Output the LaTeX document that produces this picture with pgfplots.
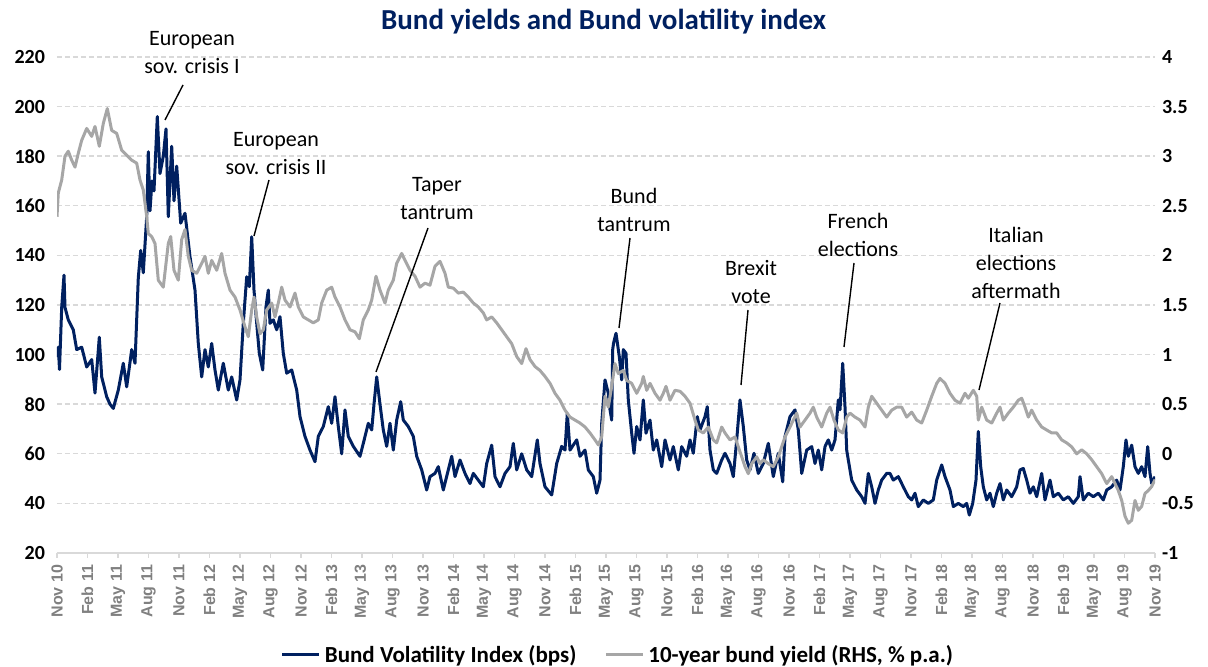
\documentclass[border=0pt]{standalone}
\usepackage{fontspec}
\setmainfont{Carlito}
\newfontfamily\xlabfont{Liberation Sans}
\usepackage{pgfplots}
\pgfplotsset{compat=1.18}
\usepackage{pgfplotstable}
\definecolor{navy}{RGB}{0,32,96}
\definecolor{ygray}{RGB}{166,166,166}
\definecolor{gridc}{RGB}{217,217,217}
\definecolor{xlab}{RGB}{128,128,128}

% px = horizontal position (57 = Nov 10, 1155 = Nov 19)
\pgfplotstableread{
px vol
57 99
58.3 103
59.5 94
61.7 119
64 132
65 119
68.3 114
73.3 110
76.7 102
81.7 103
86.7 95
91.7 98
95 84.5
99.3 107
101.7 91
106.7 83
110 80
113.3 78.3
118.3 85.7
123.3 96.5
126.7 87
131.7 102
135 96.5
138.3 131
140.7 142
143.3 133
146.7 155.6
148.3 181.8
150 158
152 170
154 166
157.3 196
160 173
163.3 180
166 191
168.3 155.6
171.7 184
174 162
176.7 176
180.7 153
185 157
190 139.5
195 126
198.3 104.5
201.7 91
205 102
208.3 95
211.7 104.5
215 93.8
218.3 85.7
223.3 96.5
228.3 85.7
231.7 91
236.7 81.7
240 89.8
243.3 112.6
246.7 131.4
249.3 127.4
251.7 147.5
254 126
256.7 112.6
259.3 100.5
262.7 93.8
266 119.3
268.3 126
270 112.6
273.3 114
276.7 110
280 115.3
283.3 100.5
286.7 92.5
291.7 93.8
296.7 85.7
300 75
305 67
310 61.5
315 56.8
318.3 67
323.3 71
328.3 79
331.7 72.3
335 83
338.3 71
341.7 60
345 77.7
348.3 67
353.3 63
360 59
363.3 64.2
368.3 72.3
371.7 69.6
374 80
376.7 91
380 80
383.3 69.6
386.7 63
390 72.3
393.3 61.5
396.7 73.6
400.7 81
403.3 73.6
408.3 71
413.3 67
416.7 59
421.7 53.5
426.7 45.4
430 50.8
435 52.1
438.3 54.8
443.3 45.4
448.3 53.5
451.7 59
455 50.8
460 57.5
465 52.1
470 48
473.3 52.1
478.3 49.4
483.3 46.7
486.7 56.1
491.7 63.5
495 50.8
500 46.7
505 52.1
510 54.8
513.3 64.2
516.7 53.5
521.7 60
526.7 53.5
531.7 50.8
537.3 65.6
540 56.1
545 46.7
551.7 43.4
556.7 56.1
561.7 63
565 61.5
567.3 76.3
570 61.5
576.7 65.6
580 59
585 61.5
588.3 53.5
593.3 50.8
596.7 44.1
600 49.4
601.7 72.3
605 89.8
608.3 84.4
610 77.7
611.7 73.6
612.7 102
613.5 104.5
616 108.6
619.3 99.2
621.7 89.8
623.3 102
626 100.5
628.3 81.7
631.7 68.3
634 60.2
636.7 71
640 65.6
643.3 81.7
646 68.3
650 73.6
653.3 61.5
656.7 65.6
661.7 54.8
665 65.6
670 57.5
673.3 62.9
678.3 53.5
681.7 62.9
686.7 59
690 65.6
693.3 60.2
697.3 75
700 69.6
705 75
707.3 79
710 61.5
713.3 53.5
716.7 52.1
721.7 57.5
725 60.2
730 56.1
733.3 50.8
736.7 65.6
740 81.7
743.3 71
746.7 57.5
750 53.5
754 60.2
758.3 52.1
763.3 56.1
768.3 64.2
773.3 50.8
778.3 60.2
782.7 48.7
785 67
790 75
795 77.7
798.3 69.6
801.7 52.1
806.7 61.5
811.7 62.9
815 56.1
818.3 61.5
821.7 53.5
825 62.9
828.3 65.6
831.7 61.5
835 65.6
838.3 81.7
840 77.7
842.7 96.5
845 79
846.7 61.5
848.3 57.5
851.7 49.4
856.7 45.4
861.7 42.7
865 40
868.3 52.1
871.7 46.7
875 40
878.3 45.4
881.7 49.4
886.7 52.1
890 52.1
893.3 49.4
898.3 50.8
903.3 46.7
908.3 42.7
911.7 41.4
915 44.1
918.3 38.7
923.3 41.4
928.3 40
933.3 41.4
936.7 49.4
941.7 55.5
945 50.8
950 45.4
953.3 38.7
958.3 40
963.3 38.7
966.7 40
969.3 35.3
972.7 40
976 49.4
978.3 69
980.7 54.8
983.3 46.7
986.7 41.4
990 44.1
993.3 38.7
996.7 44.1
1000 48
1003.3 41.4
1006.7 45.4
1011.7 42.7
1016.7 46.7
1020 53.5
1023.3 54.1
1026.7 49.4
1030 44.1
1033.3 46.7
1036.7 42.7
1041.7 52.1
1045 41.4
1050 49.4
1053.3 42.7
1058.3 44.1
1063.3 41.4
1068.3 42.7
1073.3 40
1078.3 42.7
1080 50.8
1083.3 41.4
1088.3 44.1
1093.3 42.7
1098.3 44.1
1103.3 41.4
1106.7 45.4
1111.7 46.7
1116.7 49.4
1120 45.4
1123.3 54.8
1126 65.6
1128.3 59
1131.7 63.5
1135 54.8
1138.3 52.1
1141.7 54.8
1145 50.8
1147.7 62.9
1150 52.1
1151.7 48
1155 50.8
}\voltable

\pgfplotstableread{
px yld
57 2.39
58.3 2.63
61.7 2.76
65 3.0
68.3 3.05
71.7 2.96
75 2.89
78.3 3.03
81.7 3.16
86.7 3.28
91.7 3.2
95 3.30
99.3 3.10
103.3 3.33
107.3 3.48
111.7 3.26
116.7 3.23
121.7 3.06
126.7 3.01
131.7 2.96
136.7 2.93
140 2.76
143.3 2.66
146.7 2.39
148.3 2.22
151.7 2.19
155 2.12
158.3 1.75
163.3 1.68
168.3 2.12
170.7 2.19
174 1.85
178.3 1.75
181.7 2.16
185 2.26
188.3 1.99
191.7 1.85
196.7 1.82
201.7 1.92
205 1.99
208.3 1.82
211.7 1.95
216.7 1.85
221.7 2.02
225 1.82
230 1.65
235 1.58
240 1.45
245 1.28
248.3 1.18
251.7 1.45
254 1.58
256.7 1.38
260 1.21
263.3 1.25
266.7 1.45
271.7 1.52
275 1.38
278.3 1.52
281.7 1.68
285 1.55
290 1.48
295 1.62
298.3 1.48
303.3 1.38
308.3 1.35
313.3 1.32
318.3 1.35
321.7 1.52
326.7 1.65
331.7 1.68
335 1.58
340 1.48
345 1.35
350 1.25
355 1.23
359.3 1.16
363.3 1.35
368.3 1.45
371.7 1.55
376 1.79
380 1.65
385 1.52
388.3 1.65
393.3 1.75
396.7 1.92
401.7 2.02
405 1.95
410 1.85
415 1.79
420 1.68
425 1.72
430 1.70
435 1.89
440 1.94
445 1.82
448.3 1.68
453.3 1.67
458.3 1.62
463.3 1.63
468.3 1.58
473.3 1.52
478.3 1.48
483.3 1.42
486.7 1.35
491.7 1.38
496.7 1.32
501.7 1.25
506.7 1.18
511.7 1.11
516.7 0.98
521.7 0.91
526 1.06
530 0.95
535 0.88
540 0.84
545 0.78
550 0.71
555 0.61
560 0.54
565 0.44
570 0.37
575 0.34
580 0.31
585 0.27
590 0.21
595 0.14
598.3 0.09
601.7 0.17
605 0.58
608.3 0.47
611.7 0.68
615 0.91
618.3 0.81
623.3 0.84
626.7 0.74
631.7 0.71
636.7 0.61
641.7 0.71
643.3 0.78
646.7 0.64
650 0.71
655 0.61
660 0.54
663.3 0.61
666 0.68
670 0.54
675 0.64
680 0.63
685 0.58
690 0.51
695 0.34
698.3 0.24
703.3 0.21
708.3 0.27
713.3 0.14
716.7 0.11
721.7 0.27
725 0.21
730 0.14
735 0.17
738.3 0.07
741.7 -0.03
745 -0.13
748.3 -0.20
751.7 -0.10
756.7 -0.03
760 -0.10
763.3 -0.06
768.3 -0.10
773.3 -0.13
778.3 -0.03
781.7 0.07
785 0.17
790 0.27
793.3 0.34
796.7 0.41
800 0.27
805 0.34
810 0.41
813.3 0.47
816.7 0.37
821.7 0.27
826.7 0.41
830 0.47
834 0.34
838.3 0.24
842.7 0.21
846.7 0.37
850 0.41
855 0.37
860 0.34
865 0.27
868.3 0.47
871.7 0.58
876.7 0.51
881.7 0.44
886.7 0.37
891.7 0.44
896.7 0.47
901.7 0.47
906.7 0.37
911.7 0.42
916.7 0.34
921.7 0.31
926.7 0.44
931.7 0.58
936.7 0.71
940 0.76
945 0.71
950 0.61
955 0.54
960 0.51
965 0.61
968.3 0.56
973.3 0.64
976.7 0.58
978.3 0.34
981.7 0.47
986.7 0.34
991.7 0.31
996.7 0.41
1000 0.47
1003.3 0.34
1008.3 0.41
1013.3 0.47
1018.3 0.54
1021.7 0.56
1025 0.47
1028.3 0.37
1031.7 0.44
1036.7 0.34
1041.7 0.27
1046.7 0.24
1051.7 0.21
1056.7 0.21
1061.7 0.14
1066.7 0.11
1071.7 0.07
1076.7 0.00
1081.7 0.04
1086.7 0.00
1091.7 -0.06
1096.7 -0.13
1101.7 -0.20
1106.7 -0.30
1111.7 -0.23
1115 -0.30
1118.3 -0.37
1121.7 -0.47
1125 -0.63
1128.3 -0.70
1131.7 -0.67
1135 -0.47
1138.3 -0.57
1141.7 -0.53
1145 -0.40
1148.3 -0.37
1151.7 -0.33
1155 -0.26
}\yldtable

\begin{document}
\begin{tikzpicture}
\pgfplotsset{
  common/.style={
    at={(0,0)}, anchor=south west,
    scale only axis, width=549pt, height=248pt,
    xmin=0, xmax=108,
    clip=true,
    yticklabel style={font=\bfseries\fontsize{10}{12}\selectfont, text=black},
    ytick style={draw=none},
    /pgf/number format/assume math mode=true,
  }
}
\begin{axis}[
  common,
  ymin=20, ymax=220,
  axis x line*=bottom, axis y line*=left,
  x axis line style={draw=gridc, line width=0.8pt, -},
  y axis line style={draw=none},
  xtick={0,3,...,108},
  xticklabels={Nov 10,Feb 11,May 11,Aug 11,Nov 11,Feb 12,May 12,Aug 12,Nov 12,Feb 13,May 13,Aug 13,Nov 13,Feb 14,May 14,Aug 14,Nov 14,Feb 15,May 15,Aug 15,Nov 15,Feb 16,May 16,Aug 16,Nov 16,Feb 17,May 17,Aug 17,Nov 17,Feb 18,May 18,Aug 18,Nov 18,Feb 19,May 19,Aug 19,Nov 19},
  xticklabel style={rotate=90, anchor=east, font=\xlabfont\bfseries\fontsize{8}{10}\selectfont, text=xlab},
  xtick style={draw=gridc, line width=0.8pt},
  tick align=outside, major tick length=2.5pt,
  ytick={20,40,...,220},
  ymajorgrids,
  grid style={draw=gridc, dash pattern=on 2.5pt off 1.5pt, line width=0.7pt},
]
\addplot[navy, line width=1.5pt, line join=round] table[x expr=(\thisrow{px}-57)/10.1667, y=vol] {\voltable};
\end{axis}
\begin{axis}[
  common,
  ymin=-1, ymax=4,
  hide x axis,
  axis y line*=right,
  y axis line style={draw=none},
  ytick={-1,-0.5,0,0.5,1,1.5,2,2.5,3,3.5,4},
  yticklabel style={/pgf/number format/.cd, fixed, precision=1},
  legend columns=2,
  legend style={at={(0.5118,-0.2056)}, anchor=center, draw=none, fill=none,
    font=\bfseries\fontsize{11.5}{13}\selectfont, text=black,
    /tikz/every even column/.append style={column sep=12pt}},
  legend image code/.code={\draw[#1] (0pt,0pt) -- (18.5pt,0pt);},
]
\addlegendimage{navy, line width=1.5pt}
\addlegendentry{Bund Volatility Index (bps)}
\addplot[ygray, line width=1.5pt, line join=round] table[x expr=(\thisrow{px}-57)/10.1667, y=yld] {\yldtable};
\addlegendentry{10-year bund yield (RHS, \% p.a.)}
\end{axis}
\begin{scope}[x=0.5pt, y=-0.5pt, shift={(-28.5pt,276.5pt)}]
  \node[font=\bfseries\fontsize{14.5}{17}\selectfont, text=navy] at (603.5,22) {Bund yields and Bund volatility index};
  \begin{scope}[font=\fontsize{11}{14}\selectfont, align=center, text=black]
    \node at (192,53) {European\\sov. crisis I};
    \node at (276,154) {European\\sov. crisis II};
    \node at (437,199) {Taper\\tantrum};
    \node at (634,210) {Bund\\tantrum};
    \node at (751,282) {Brexit\\vote};
    \node at (858,235) {French\\elections};
    \node at (1016,263) {Italian\\elections\\aftermath};
  \end{scope}
  \begin{scope}[line width=0.7pt, black]
    \draw (183,85) -- (165,120);
    \draw (269,180) -- (254,236);
    \draw (428,228) -- (376,372);
    \draw (630,238) -- (619,328);
    \draw (748,310) -- (741,385);
    \draw (854,263) -- (844,347);
    \draw (1000,303) -- (979,390);
  \end{scope}
\end{scope}
\pgfresetboundingbox
\useasboundingbox (-28.5pt,-57pt) rectangle (575.5pt,276.5pt);
\end{tikzpicture}
\end{document}
